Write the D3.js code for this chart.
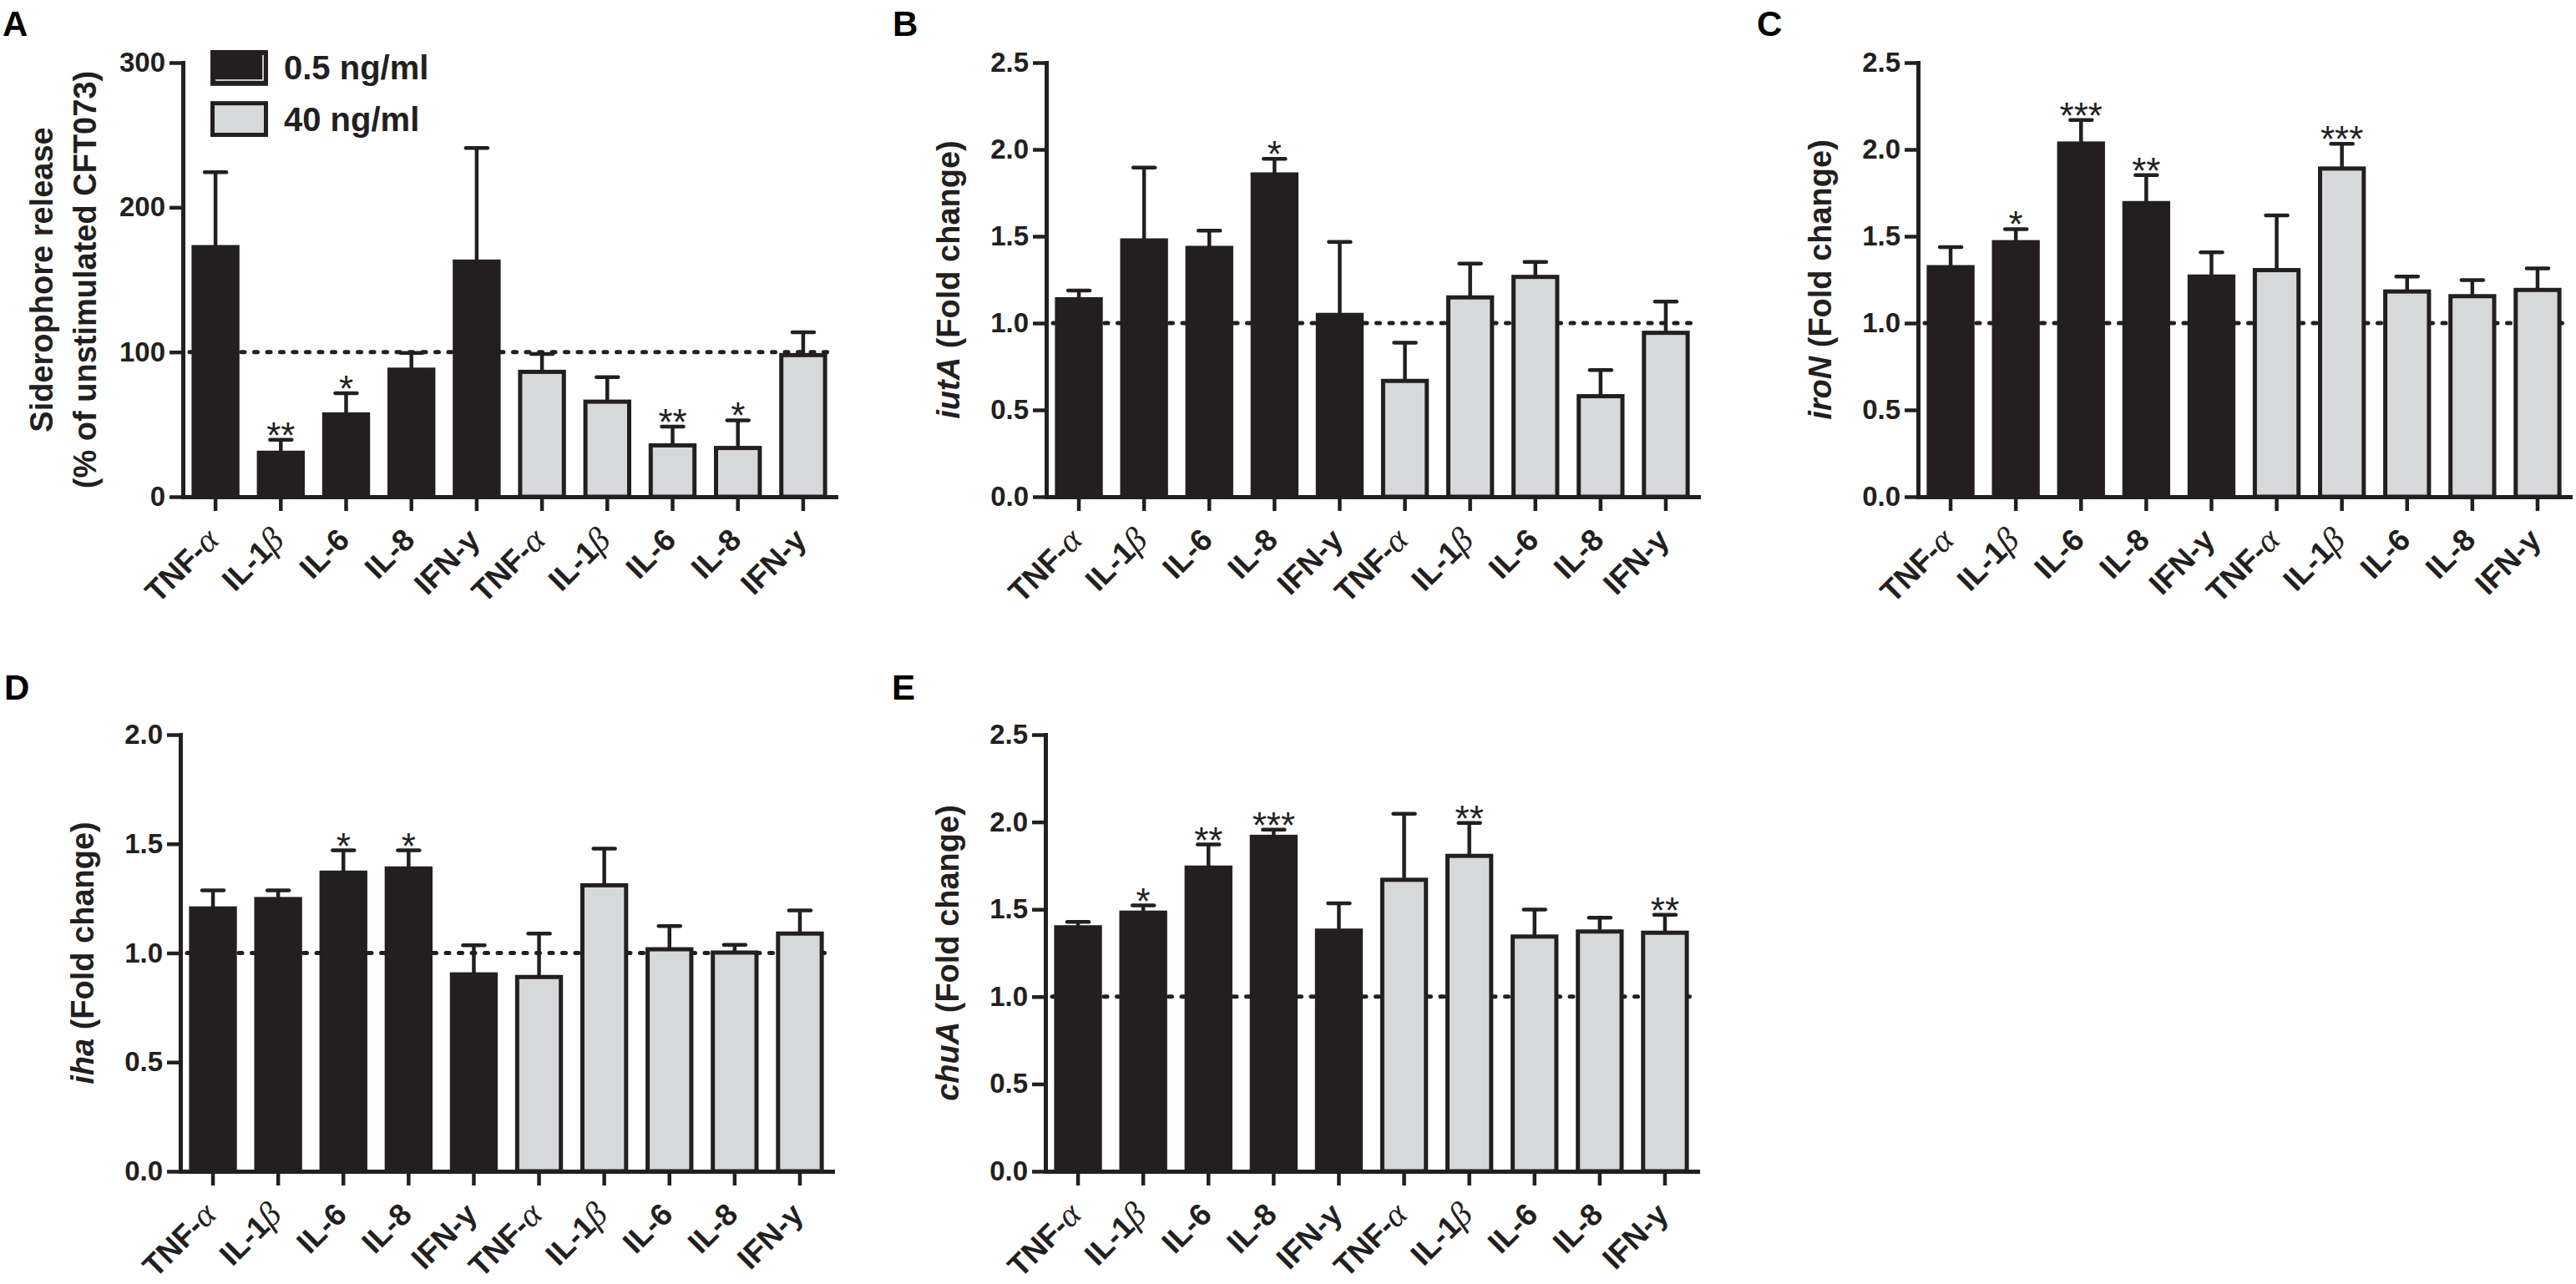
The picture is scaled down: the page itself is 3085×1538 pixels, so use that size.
<!DOCTYPE html>
<html>
<head>
<meta charset="utf-8">
<script src="https://cdn.jsdelivr.net/npm/d3@7"></script>
<style>
  body { margin: 0; background: #fff; }
  text { font-family: "Liberation Sans", Arial, sans-serif; }
</style>
</head>
<body>
<div id="chart"></div>
<script>
// categories (first five = 0.5 ng/ml, last five = 40 ng/ml)
var cytokines = ["TNF-α", "IL-1β", "IL-6", "IL-8", "IFN-y"];
var doses = ["0.5 ng/ml", "40 ng/ml"];

// A - siderophore release (% of unstimulated)
var sidMean = [172.5, 30.4, 56.9, 87.8, 162.5, 86.3, 65.7, 35.5, 33.7, 97.9];
var sidSem  = [51.8, 9.0, 14.7, 11.6, 78.5, 12.3, 17.0, 12.9, 19.1, 15.7];
var sidSig  = ["", "**", "*", "", "", "", "", "**", "*", ""];

// B - iutA
var iutMean = [1.137, 1.476, 1.433, 1.856, 1.047, 0.667, 1.148, 1.266, 0.579, 0.944];
var iutSem  = [0.05, 0.42, 0.10, 0.09, 0.42, 0.22, 0.195, 0.086, 0.15, 0.18];
var iutSig  = ["", "", "", "*", "", "", "", "", "", ""];

// C - iroN
var iroMean = [1.322, 1.466, 2.034, 1.691, 1.268, 1.305, 1.89, 1.182, 1.155, 1.191];
var iroSem  = [0.116, 0.075, 0.136, 0.161, 0.14, 0.315, 0.142, 0.086, 0.092, 0.124];
var iroSig  = ["", "*", "***", "**", "", "", "***", "", "", ""];

// D - iha
var ihaMean = [1.204, 1.247, 1.368, 1.387, 0.902, 0.890, 1.310, 1.017, 1.002, 1.089];
var ihaSem  = [0.083, 0.04, 0.102, 0.083, 0.133, 0.199, 0.168, 0.106, 0.035, 0.106];
var ihaSig  = ["", "", "*", "*", "", "", "", "", "", ""];

// E - chuA
var chuMean = [1.397, 1.481, 1.739, 1.915, 1.378, 1.669, 1.806, 1.344, 1.373, 1.366];
var chuSem  = [0.031, 0.041, 0.132, 0.041, 0.156, 0.378, 0.188, 0.154, 0.079, 0.103];
var chuSig  = ["", "*", "**", "***", "", "", "**", "", "", "**"];

var ticksA = [0, 100, 200, 300];
var ticksFold = [0, 0.5, 1.0, 1.5, 2.0, 2.5];
var ticksFoldD = [0, 0.5, 1.0, 1.5, 2.0];

var ink = "#231f20";
var light = "#d7d8d9";

var svg = d3.select("#chart").append("svg")
    .attr("width", 3085)
    .attr("height", 1538);

function drawPanel(p) {
    var g = svg.append("g");
    var keys = d3.range(p.mean.length);

    var x = d3.scaleBand()
        .domain(keys)
        .range([p.left, p.right])
        .paddingInner(0.33)
        .paddingOuter(0.165);

    var y = d3.scaleLinear()
        .domain([0, p.max])
        .range([p.bottom, p.top]);

    //panel letter
    g.append("text")
        .attr("x", p.letterX)
        .attr("y", p.letterY)
        .attr("font-size", 42)
        .attr("font-weight", "bold")
        .attr("fill", "#000")
        .text(p.letter);

    //dashed reference line
    g.append("line")
        .attr("x1", p.left + 8)
        .attr("x2", p.right)
        .attr("y1", y(p.ref))
        .attr("y2", y(p.ref))
        .attr("stroke", ink)
        .attr("stroke-width", 5)
        .attr("stroke-linecap", "round")
        .attr("stroke-dasharray", "4,11.5");

    //bars
    g.selectAll("rect.bar")
        .data(keys)
        .enter().append("rect")
        .attr("class", "bar")
        .attr("x", function(i) { return x(i); })
        .attr("y", function(i) { return y(p.mean[i]); })
        .attr("width", x.bandwidth())
        .attr("height", function(i) { return y(0) - y(p.mean[i]); })
        .attr("fill", function(i) { return i < 5 ? ink : light; })
        .attr("stroke", ink)
        .attr("stroke-width", 5);

    //error bars (upper only)
    var cx = function(i) { return x(i) + x.bandwidth() / 2; };
    g.selectAll("line.err")
        .data(keys)
        .enter().append("line")
        .attr("class", "err")
        .attr("x1", cx).attr("x2", cx)
        .attr("y1", function(i) { return y(p.mean[i]); })
        .attr("y2", function(i) { return y(p.mean[i] + p.sem[i]); })
        .attr("stroke", ink)
        .attr("stroke-width", 4.5);

    g.selectAll("line.cap")
        .data(keys)
        .enter().append("line")
        .attr("class", "cap")
        .attr("x1", function(i) { return cx(i) - 13; })
        .attr("x2", function(i) { return cx(i) + 13; })
        .attr("y1", function(i) { return y(p.mean[i] + p.sem[i]); })
        .attr("y2", function(i) { return y(p.mean[i] + p.sem[i]); })
        .attr("stroke", ink)
        .attr("stroke-width", 4.5)
        .attr("stroke-linecap", "round");

    //significance stars
    g.selectAll("text.sig")
        .data(keys.filter(function(i) { return p.sig[i] !== ""; }))
        .enter().append("text")
        .attr("class", "sig")
        .attr("x", cx)
        .attr("y", function(i) { return y(p.mean[i] + p.sem[i]) + 10; })
        .attr("text-anchor", "middle")
        .attr("font-size", 44)
        .attr("fill", ink)
        .text(function(i) { return p.sig[i]; });

    //y axis
    var yAxis = g.append("g")
        .attr("transform", "translate(" + p.left + ",0)")
        .call(d3.axisLeft(y)
            .tickValues(p.ticks)
            .tickFormat(p.fmt)
            .tickSize(16)
            .tickSizeOuter(0)
            .tickPadding(5));
    yAxis.select(".domain").attr("stroke", ink).attr("stroke-width", 5).attr("stroke-linecap", "square");
    yAxis.selectAll(".tick line").attr("stroke", ink).attr("stroke-width", 4.5);
    yAxis.selectAll(".tick text")
        .attr("font-size", 33)
        .attr("font-weight", "bold")
        .attr("font-family", "'Liberation Sans', Arial, sans-serif")
        .attr("fill", ink);

    //x axis
    var xAxis = g.append("g")
        .attr("transform", "translate(0," + p.bottom + ")")
        .call(d3.axisBottom(x).tickSize(17).tickSizeOuter(0).tickFormat(""));
    xAxis.select(".domain").attr("stroke", ink).attr("stroke-width", 5).attr("stroke-linecap", "square");
    xAxis.selectAll(".tick line").attr("stroke", ink).attr("stroke-width", 4.5);
    xAxis.selectAll(".tick text").remove();

    xAxis.selectAll(".tick").each(function(i) {
        var name = cytokines[i % 5];
        var t = d3.select(this).append("text")
            .attr("transform", "translate(6,54) rotate(-45)")
            .attr("text-anchor", "end")
            .attr("font-size", 37)
            .attr("font-weight", "bold")
            .attr("fill", ink);
        var greek = name.slice(-1);
        if (greek === "α" || greek === "β") {
            t.append("tspan").text(name.slice(0, -1));
            t.append("tspan")
                .attr("font-family", "'Liberation Serif', serif")
                .attr("font-style", "italic")
                .attr("font-weight", "normal")
                .attr("font-size", 41)
                .text(greek);
        } else {
            t.text(name);
        }
    });

    //y axis title
    var midY = (p.top + p.bottom) / 2;
    p.title.forEach(function(line, k) {
        var t = g.append("text")
            .attr("transform", "translate(" + (p.left - 104 - 52 * (p.title.length - 1 - k)) + "," + midY + ") rotate(-90)")
            .attr("text-anchor", "middle")
            .attr("font-size", 38)
            .attr("font-weight", "bold")
            .attr("fill", ink);
        line.forEach(function(part) {
            t.append("tspan")
                .attr("font-style", part.italic ? "italic" : "normal")
                .text(part.text);
        });
    });

    return g;
}

var fmtFold = d3.format(".1f");

var panelA = drawPanel({
    letter: "A", letterX: 3, letterY: 43,
    mean: sidMean, sem: sidSem, sig: sidSig, max: 300, ref: 100,
    ticks: ticksA, fmt: d3.format("d"),
    left: 219, right: 1001, top: 75, bottom: 595,
    title: [[{text: "Siderophore release"}], [{text: "(% of unstimulated CFT073)"}]]
});

drawPanel({
    letter: "B", letterX: 1069, letterY: 43,
    mean: iutMean, sem: iutSem, sig: iutSig, max: 2.5, ref: 1,
    ticks: ticksFold, fmt: fmtFold,
    left: 1253, right: 2034, top: 75, bottom: 595,
    title: [[{text: "iutA", italic: true}, {text: " (Fold change)"}]]
});

drawPanel({
    letter: "C", letterX: 2104, letterY: 43,
    mean: iroMean, sem: iroSem, sig: iroSig, max: 2.5, ref: 1,
    ticks: ticksFold, fmt: fmtFold,
    left: 2297, right: 3078, top: 75, bottom: 595,
    title: [[{text: "iroN", italic: true}, {text: " (Fold change)"}]]
});

drawPanel({
    letter: "D", letterX: 5, letterY: 838,
    mean: ihaMean, sem: ihaSem, sig: ihaSig, max: 2.0, ref: 1,
    ticks: ticksFoldD, fmt: fmtFold,
    left: 216, right: 997, top: 880, bottom: 1403,
    title: [[{text: "iha", italic: true}, {text: " (Fold change)"}]]
});

drawPanel({
    letter: "E", letterX: 1068, letterY: 838,
    mean: chuMean, sem: chuSem, sig: chuSig, max: 2.5, ref: 1,
    ticks: ticksFold, fmt: fmtFold,
    left: 1252, right: 2033, top: 880, bottom: 1403,
    title: [[{text: "chuA", italic: true}, {text: " (Fold change)"}]]
});

//Legend (panel A)
var legend = panelA.append("g");
var legendY = d3.scaleBand().domain(doses).range([60, 164]).paddingInner(0.3);

legend.selectAll("rect")
    .data(doses)
    .enter().append("rect")
    .attr("x", 254.5)
    .attr("y", function(d) { return legendY(d) + 2.5; })
    .attr("width", 64)
    .attr("height", legendY.bandwidth() - 5)
    .attr("fill", function(d, i) { return i === 0 ? ink : light; })
    .attr("stroke", ink)
    .attr("stroke-width", 5);

// thin white edge inside the dark key
legend.append("polyline")
    .attr("points", "258," + (legendY(doses[0]) + 36) + " 315," + (legendY(doses[0]) + 36) + " 315," + (legendY(doses[0]) + 6))
    .attr("fill", "none")
    .attr("stroke", "#fff")
    .attr("stroke-width", 1.5);

legend.selectAll("text")
    .data(doses)
    .enter().append("text")
    .attr("x", 340)
    .attr("y", function(d) { return legendY(d) + legendY.bandwidth() / 2 + 14; })
    .attr("font-size", 40)
    .attr("font-weight", "bold")
    .attr("fill", ink)
    .text(function(d) { return d; });
</script>
</body>
</html>
